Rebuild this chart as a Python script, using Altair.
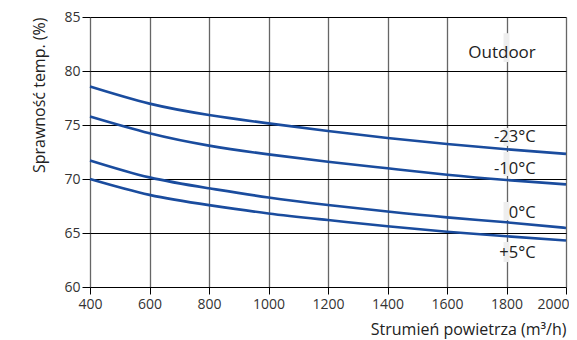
import altair as alt
import pandas as pd

flow = [400, 600, 800, 1000, 1200, 1400, 1600, 1800, 2000]
eff_m23 = [78.56, 76.98, 75.93, 75.15, 74.44, 73.80, 73.24, 72.75, 72.33]
eff_m10 = [75.78, 74.23, 73.09, 72.28, 71.60, 70.99, 70.40, 69.91, 69.50]
eff_0 = [71.72, 70.15, 69.14, 68.29, 67.60, 66.99, 66.45, 65.99, 65.47]
eff_p5 = [70.00, 68.53, 67.58, 66.81, 66.20, 65.62, 65.12, 64.70, 64.30]

series_names = ["-23°C", "-10°C", "0°C", "+5°C"]
series_vals = [eff_m23, eff_m10, eff_0, eff_p5]

x_ticks = [400, 600, 800, 1000, 1200, 1400, 1600, 1800, 2000]
y_ticks = [60, 65, 70, 75, 80, 85]

# annotation labels (text, x, y) and the gaps they cut into the 1800 grid line
label_text = ["Outdoor", "-23°C", "-10°C", "0°C", "+5°C"]
label_x = [1785, 1898, 1898, 1898, 1898]
label_y = [81.65, 73.9, 70.93, 66.85, 63.15]
gap_y = [83.5, 74.72, 72.5, 67.87, 64.17]
gap_y2 = [80.83, 73.06, 70.28, 66.2, 62.31]

FONT = "Open Sans"
BG = "#eeeeee"
LINE = "#1a4c9e"

rows = []
for name, vals in zip(series_names, series_vals):
    for f, v in zip(flow, vals):
        rows.append({"flow": f, "eff": v, "series": name})
df = pd.DataFrame(rows)

labels = pd.DataFrame({"text": label_text, "x": label_x, "y": label_y})
gaps = pd.DataFrame({"x": [1790] * len(gap_y), "x2": [1810] * len(gap_y),
                     "y": gap_y, "y2": gap_y2})

xscale = alt.Scale(domain=[400, 2000], nice=False, zero=False)
yscale = alt.Scale(domain=[60, 85], nice=False, zero=False)

xaxis = alt.Axis(
    values=x_ticks, format="d", title="Strumień powietrza (m³/h)", titleAnchor="end",
    titleFontSize=16, titleFont=FONT, titleFontWeight="normal", titleColor="#222",
    titlePadding=10, labelFont=FONT, labelFontSize=14, labelColor="#333",
    labelPadding=3, tickSize=7, tickColor="#000", tickWidth=1,
    grid=True, gridColor="#666", gridWidth=1.3, domain=False, labelFlush=False,
    labelAlign=alt.ExprRef(expr="datum.value == 2000 ? 'right' : 'center'"),
    labelOffset=alt.ExprRef(expr="datum.value == 2000 ? 3 : 0"),
)
yaxis = alt.Axis(
    values=y_ticks, format="d", title="Sprawność temp. (%)", titleAnchor="end",
    titleFontSize=16, titleFont=FONT, titleFontWeight="normal", titleColor="#222",
    titlePadding=16, labelFont=FONT, labelFontSize=14, labelColor="#333",
    labelPadding=2, tickSize=8, tickColor="#000", tickWidth=1,
    grid=True, gridColor="#000", gridWidth=1, domain=False,
)

rects = alt.Chart(gaps).mark_rect(fill=BG, opacity=1, strokeWidth=0).encode(
    x=alt.X("x:Q", scale=xscale, axis=xaxis),
    x2="x2:Q",
    y=alt.Y("y:Q", scale=yscale, axis=yaxis),
    y2="y2:Q",
)

lines = alt.Chart(df).mark_line(color=LINE, strokeWidth=2.6, interpolate="natural").encode(
    x=alt.X("flow:Q", scale=xscale),
    y=alt.Y("eff:Q", scale=yscale),
    detail="series:N",
)

texts_out = alt.Chart(labels.iloc[[0]]).mark_text(
    font=FONT, fontSize=17, color="#222", align="center", baseline="middle"
).encode(x=alt.X("x:Q", scale=xscale), y=alt.Y("y:Q", scale=yscale), text="text:N")

texts = alt.Chart(labels.iloc[1:]).mark_text(
    font=FONT, fontSize=16.5, color="#222", align="right", baseline="middle"
).encode(x=alt.X("x:Q", scale=xscale), y=alt.Y("y:Q", scale=yscale), text="text:N")

chart = alt.layer(rects, lines, texts_out, texts).properties(
    width=476, height=270,
    autosize=alt.AutoSizeParams(type="none"),
    padding={"left": 82, "top": 9, "right": 3, "bottom": 53},
).configure_view(fill=BG, stroke=None).configure(background="white")

chart.save("out.html", embed_options={"renderer": "svg", "actions": False})
